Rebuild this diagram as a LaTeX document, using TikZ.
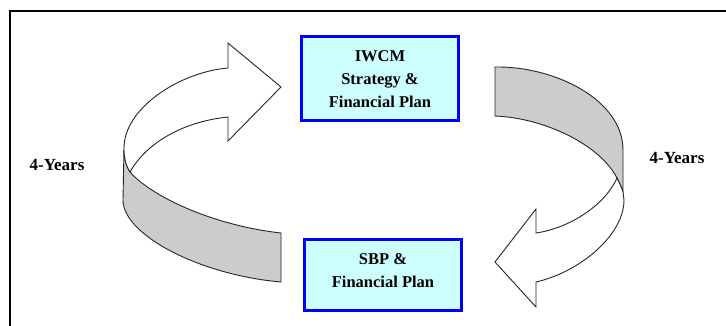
\documentclass[tikz,border=0pt]{standalone}
\usepackage{fontspec}
\setmainfont{Liberation Serif}
\definecolor{boxfill}{RGB}{206,255,255}
\begin{document}
\begin{tikzpicture}[x=1pt,y=-1pt,
  planbox/.style={draw=blue, line width=2.8pt, fill=boxfill, minimum width=157pt, inner sep=0pt},
  boxtext/.style={font=\bfseries\fontsize{16.5}{23}\selectfont, align=center, text=black},
  yearlabel/.style={font=\bfseries\fontsize{17}{20}\selectfont, text=black},
  ribbon/.style={draw=black!85, line width=0.9pt, line join=miter},
  backside/.style={ribbon, fill=black!20},
  frontside/.style={ribbon, fill=white}]
\useasboundingbox (0,0) rectangle (726,325);
\clip (0,0) rectangle (726,325);
\fill[white] (0,0) rectangle (726,325);
\draw[line width=2pt] (10,11) rectangle (760,360);

% boxes
\node[planbox, minimum height=84pt] (top) at (380,78.5) {};
\node[boxtext] (toptext) at (380,79) {IWCM\\Strategy \&\\Financial Plan};
\node[planbox, minimum height=71pt] (bot) at (383,275) {};
\node[boxtext] (bottext) at (383,270.5) {SBP \&\\Financial Plan};

% labels
\node[yearlabel] (ly) at (57,165) {4-Years};
\node[yearlabel] (ry) at (677,158) {4-Years};

% left ribbon: back (gray)
\draw[backside] (124,148) -- (123,200)
  .. controls (123,235) and (200,275) .. (281,282)
  -- (281,233)
  .. controls (210,225) and (150,195) .. (130,172)
  .. controls (125,164) and (124,156) .. cycle;
% left ribbon: front (white arrow)
\draw[frontside] (124,148)
  .. controls (124,108) and (180,72) .. (228,68)
  -- (228,43) -- (281,87) -- (228,141) -- (228,117)
  .. controls (180,122) and (145,145) .. (130,172)
  .. controls (125,164) and (124,156) .. cycle;

% right ribbon: back (gray)
\draw[backside] (495,67)
  .. controls (555,66) and (623,100) .. (623,150)
  -- (623,192)
  .. controls (621,186) and (619,182) .. (617,178)
  .. controls (600,145) and (545,118) .. (495,116)
  -- cycle;
% right ribbon: front (white arrow)
\draw[frontside] (617,178)
  .. controls (619,182) and (621,186) .. (623,192)
  -- (624,200)
  .. controls (624,235) and (580,272) .. (536,282)
  -- (536,307) -- (495,262) -- (536,209) -- (536,233)
  .. controls (570,228) and (605,205) .. cycle;
\end{tikzpicture}
\end{document}
